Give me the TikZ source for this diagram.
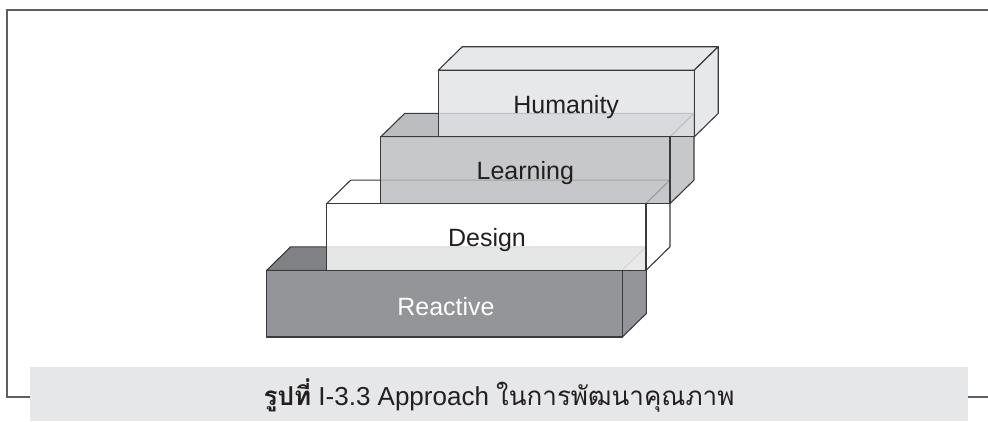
\documentclass[tikz,border=0pt]{standalone}
\usepackage{fontspec}
\setmainfont{Liberation Sans}
\newfontfamily\thaifont[Script=Thai]{Loma}
\usetikzlibrary{positioning}

\definecolor{framegray}{HTML}{5E5F61}
\definecolor{edgegray}{HTML}{3A3A3C}
\definecolor{capfill}{HTML}{E6E7E8}
\definecolor{humfront}{HTML}{E1E2E5}
\definecolor{lrnfront}{HTML}{B9BABD}
\definecolor{lrntop}{HTML}{ABACB0}
\definecolor{reafront}{HTML}{939598}
\definecolor{reatop}{HTML}{808285}
\definecolor{labelblack}{HTML}{231F20}

\tikzset{
  slabedge/.style={draw=edgegray, line width=1.1pt, line join=round},
  slabtext/.style={font=\fontsize{25}{30}\selectfont, text=labelblack, inner sep=0pt},
  frameline/.style={draw=framegray, line width=1.4pt},
}

% front top-left, width, front colour, top colour, side colour, fill opacity
\newcommand{\slab}[6]{%
  \filldraw[slabedge, fill=#4, fill opacity=#6] #1 -- ++(24,-23.5) -- ++(#2,0) -- ++(-24,23.5) -- cycle;
  \filldraw[slabedge, fill=#5, fill opacity=#6] #1 ++(#2,0) -- ++(24,-23.5) -- ++(0,66.7) -- ++(-24,23.5) -- cycle;
  \filldraw[slabedge, fill=#3, fill opacity=#6] #1 rectangle ++(#2,66.7);
}

\begin{document}
\begin{tikzpicture}[x=1pt, y=-1pt]
  \useasboundingbox (0,0) rectangle (988,421);

  % frame
  \draw[frameline] (30,397) -- (7,397) -- (7,10) -- (988,10);
  \draw[frameline] (968,397) -- (988,397);

  % the four slabs, bottom first
  \slab{(266.7,270.3)}{355.6}{reafront}{reatop}{reafront}{1}
  \slab{(326.7,203.6)}{319.3}{white}{white}{white}{0.8}
  \slab{(380.7,136.9)}{289.3}{lrnfront}{lrntop}{lrnfront}{0.8}
  \slab{(438.3,70.2)}{255.9}{humfront}{humfront}{humfront}{0.8}

  \node[slabtext, text=white] (reactive) at (446,306.5) {Reactive};
  \node[slabtext] (design) at (487,240.5) {Design};
  \node[slabtext] (learning) at (525.3,173.5) {Learning};
  \node[slabtext] (humanity) at (566.2,107) {Humanity};

  % caption
  \fill[capfill] (30,367) rectangle (968,421);
  \node[anchor=base, font=\fontsize{26}{31}\selectfont, text=labelblack] (caption) at (499,405)
    {{\thaifont\bfseries รูปที่} I-3.3 Approach {\thaifont ในการพัฒนาคุณภาพ}};
\end{tikzpicture}
\end{document}
